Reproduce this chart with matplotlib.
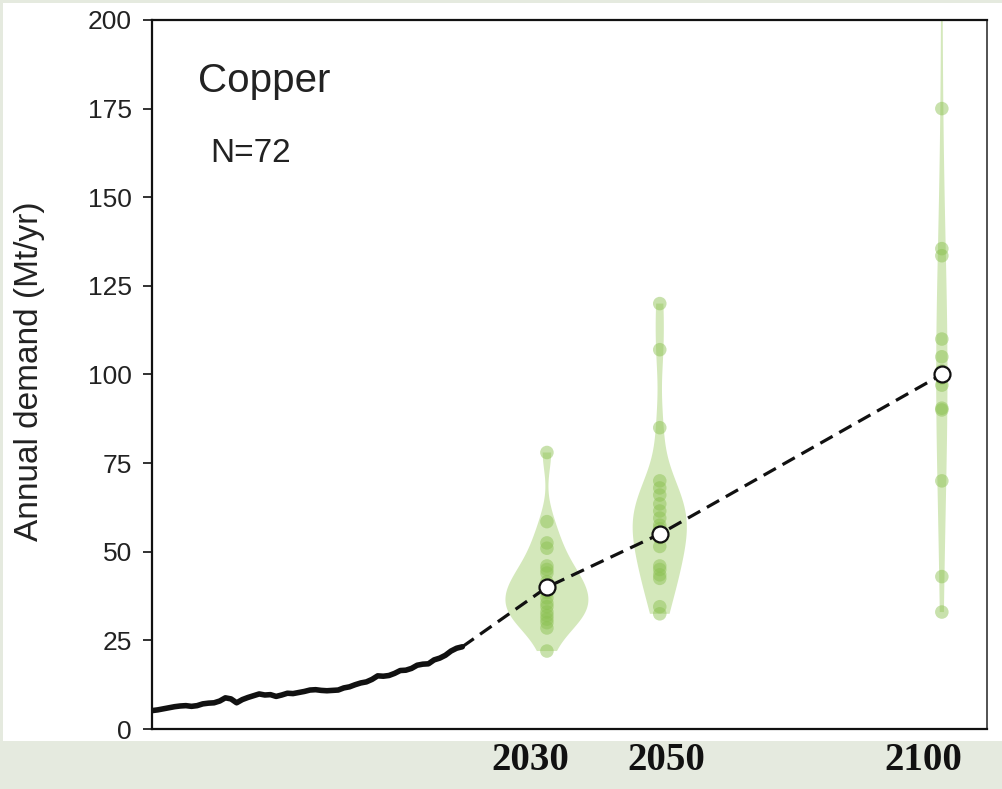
import matplotlib.pyplot as plt
from matplotlib.patches import Rectangle
import numpy as np

# Historical copper demand (Mt/yr)
hist_years = list(range(1960, 2016))
hist_demand = [5.2, 5.4, 5.7, 6.0, 6.3, 6.5, 6.6, 6.4, 6.6, 7.1,
               7.3, 7.4, 7.9, 8.8, 8.5, 7.4, 8.3, 8.9, 9.4, 9.9,
               9.6, 9.7, 9.2, 9.6, 10.1, 10.0, 10.3, 10.6, 11.0, 11.1,
               10.9, 10.8, 10.9, 11.0, 11.6, 11.9, 12.5, 13.0, 13.3, 14.0,
               15.0, 14.9, 15.1, 15.7, 16.5, 16.6, 17.1, 18.0, 18.3, 18.4,
               19.5, 20.0, 20.8, 22.0, 22.8, 23.2]

# Scenario years, medians and individual scenario values
# (some values sit under the median marker or on top of each other)
scen_years = [2030, 2050, 2100]
scen_median = [40, 55, 100]
scen_2030 = [78, 58.5, 52.5, 51, 46, 45, 44, 41.5, 40, 39, 38.5, 37,
             35.5, 34.5, 33, 32, 31, 30, 28.5, 22]
scen_2050 = [120, 107, 85, 70, 68, 66, 63.5, 61.5, 59.5, 57.5, 56.5, 55, 54,
             51.5, 46, 45, 43.5, 42.5, 34.5, 32.5]
scen_2100 = [240, 175, 135.5, 133.5, 110, 105, 101, 99, 97, 90.5, 90, 70, 43, 33]

yticks = [0, 25, 50, 75, 100, 125, 150, 175, 200]
year_labels = ['2030', '2050', '2100']

BAND = '#e5eadf'
VIOLIN = '#d4e8bb'
DOT = '#8cc152'

fig = plt.figure(figsize=(10.02, 7.89), dpi=100, facecolor=BAND)
plt.rcParams['font.family'] = ['Liberation Sans', 'DejaVu Sans']

# white panel behind the chart
fig.patches.append(Rectangle((0.003, 0.0608), 0.997, 0.9354, transform=fig.transFigure,
                             facecolor='white', edgecolor='none', zorder=-10))

ax = fig.add_axes([0.1517, 0.0760, 0.8333, 0.8987])
ax.set_facecolor('white')

scen_values = [scen_2030, scen_2050, scen_2100]

# violins, one per year so each gets its own kernel width
for yr, vals, w, bw in zip(scen_years, scen_values, [14.7, 9.6, 2.0], [0.42, 0.36, 0.6]):
    vp = ax.violinplot([vals], positions=[yr], widths=w, showextrema=False,
                       bw_method=bw, points=300)
    for body in vp['bodies']:
        body.set_facecolor(VIOLIN)
        body.set_edgecolor('none')
        body.set_alpha(1)
        body.set_zorder(1)

# individual scenario points
for yr, vals in zip(scen_years, scen_values):
    ax.scatter([yr] * len(vals), vals, s=95, color=DOT, alpha=0.48,
               edgecolor='none', zorder=2)

# historical line
ax.plot(hist_years, hist_demand, color='#111111', lw=4.0,
        solid_capstyle='round', solid_joinstyle='round', zorder=3)

# projection through the medians
ax.plot([hist_years[-1]] + scen_years, [hist_demand[-1]] + scen_median,
        color='#111111', lw=2.3, dashes=(4.4, 2.4), zorder=3)
ax.plot(scen_years, scen_median, 'o', ms=11.5, mfc='white', mec='#111111',
        mew=1.6, zorder=4)

ax.set_xlim(1960, 2108)
ax.set_ylim(0, 200)
ax.set_yticks(yticks)
ax.set_xticks([])
ax.tick_params(axis='y', direction='out', length=6.5, width=1.3, pad=8,
               labelsize=19, colors='#222222')
for side in ['left', 'bottom', 'top']:
    ax.spines[side].set_linewidth(1.6)
    ax.spines[side].set_color('#111111')
ax.spines['right'].set_linewidth(1.3)
ax.spines['right'].set_color('#444444')

ax.set_ylabel('Annual demand (Mt/yr)', fontsize=24, color='#222222')
ax.yaxis.set_label_coords(-0.128, 0.505)

ax.text(0.055, 0.898, 'Copper', transform=ax.transAxes, fontsize=29,
        color='#222222', va='baseline')
ax.text(0.0695, 0.800, 'N=72', transform=ax.transAxes, fontsize=24,
        color='#222222', va='baseline')

# year labels in the band below the chart
for xf, lab in zip([0.529, 0.665, 0.921], year_labels):
    fig.text(xf, 0.036, lab, ha='center', va='center', fontsize=28,
             fontweight='bold', family=['Liberation Serif', 'DejaVu Serif'],
             color='#111111')

fig.savefig('out.png', dpi=100, facecolor=BAND)
